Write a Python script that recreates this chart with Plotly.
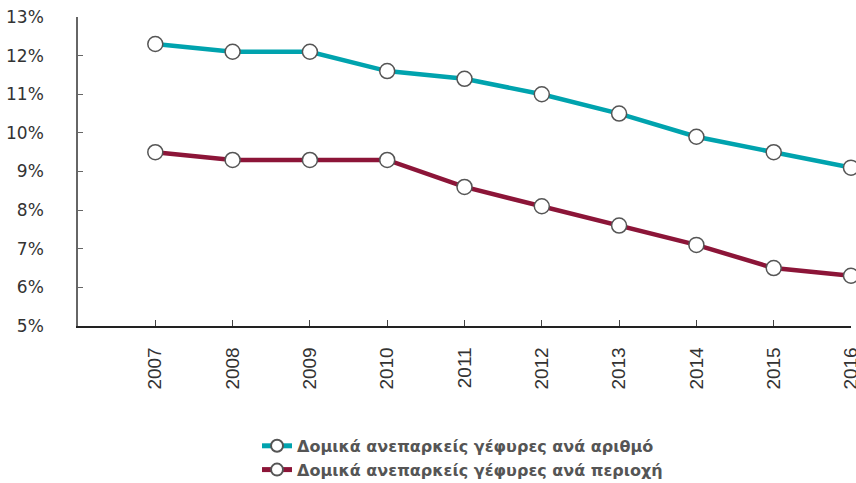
import plotly.graph_objects as go

years = [2007, 2008, 2009, 2010, 2011, 2012, 2013, 2014, 2015, 2016]
by_number = [12.3, 12.1, 12.1, 11.6, 11.4, 11.0, 10.5, 9.9, 9.5, 9.1]
by_area = [9.5, 9.3, 9.3, 9.3, 8.6, 8.1, 7.6, 7.1, 6.5, 6.3]
names = ["Δομικά ανεπαρκείς γέφυρες ανά αριθμό", "Δομικά ανεπαρκείς γέφυρες ανά περιοχή"]
colors = ["#00A3AE", "#8C1538"]

fig = go.Figure()
for vals, name, col in zip([by_number, by_area], names, colors):
    fig.add_trace(go.Scatter(
        x=years, y=vals, name=name, mode="lines+markers",
        line=dict(color=col, width=4.5),
        marker=dict(size=15, color="white", line=dict(color="#555555", width=1.5)),
        cliponaxis=False,
    ))

fig.update_layout(
    width=856, height=483,
    margin=dict(l=78, r=5, t=17, b=157, autoexpand=False),
    paper_bgcolor="white", plot_bgcolor="white",
    showlegend=True,
    legend=dict(orientation="v", x=0.2316, xanchor="left", y=-0.333, yanchor="top",
                font=dict(family="DejaVu Sans", size=16, color="#555555", weight="bold"),
                tracegroupgap=0, itemsizing="constant"),
    xaxis=dict(range=[2006, 2016], tickvals=years, ticktext=[str(y) for y in years],
               tickangle=-90, showgrid=False, zeroline=False, automargin=False,
               ticklabeloverflow="allow",
               showline=True, linecolor="#222222", linewidth=1.5,
               ticks="inside", ticklen=6, tickcolor="#444444", ticklabelstandoff=12,
               tickfont=dict(family="Liberation Sans", size=19, color="#333333")),
    yaxis=dict(range=[5, 13], dtick=1, ticksuffix="%", showgrid=False, zeroline=False,
               automargin=False, ticklabeloverflow="allow",
               showline=True, linecolor="#666666", linewidth=1.5,
               ticks="inside", ticklen=5, tickcolor="#666666", ticklabelstandoff=29,
               tickfont=dict(family="DejaVu Sans", size=17, color="#333333")),
)

fig.write_html("out.html", config={"displayModeBar": False},
               post_script="document.body.style.margin='0';")
